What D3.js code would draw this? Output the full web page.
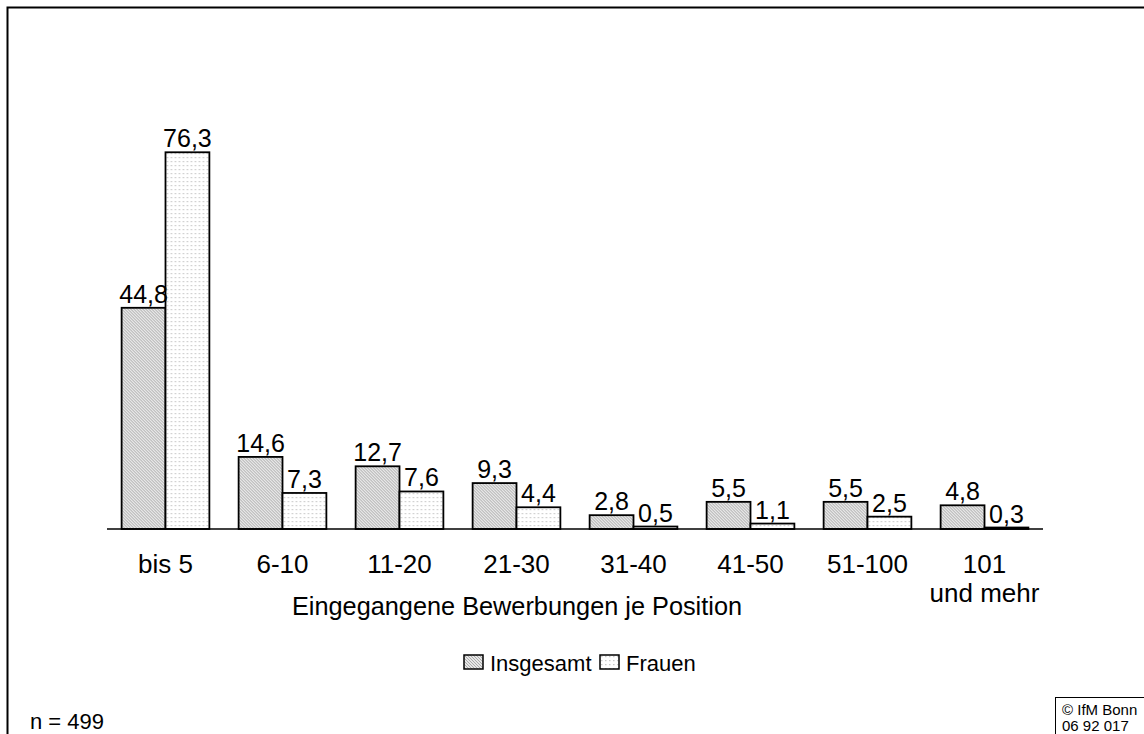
<!DOCTYPE html>
<html>
<head>
<meta charset="utf-8">
<script src="https://cdn.jsdelivr.net/npm/d3@7"></script>
<style>
  body { margin: 0; background: #fff; }
  text { font-family: "Liberation Sans", Arial, sans-serif; fill: #000; }
</style>
</head>
<body>
<script>
var w = 1144;
var h = 734;

var categories = ["bis 5", "6-10", "11-20", "21-30", "31-40", "41-50", "51-100", "101\nund mehr"];
var insgesamt = [44.8, 14.6, 12.7, 9.3, 2.8, 5.5, 5.5, 4.8];
var frauen = [76.3, 7.3, 7.6, 4.4, 0.5, 1.1, 2.5, 0.3];
var seriesNames = ["Insgesamt", "Frauen"];

var baseY = 529;

var xScale = d3.scaleBand()
  .domain(categories)
  .range([107, 1043])
  .paddingInner(0.25)
  .paddingOuter(0.125);

var xSub = d3.scaleBand()
  .domain(seriesNames)
  .range([0, xScale.bandwidth()]);

var yScale = d3.scaleLinear()
  .domain([0, 80])
  .range([baseY, baseY - 395]);

var svg = d3.select("body")
  .append("svg")
  .attr("width", w)
  .attr("height", h);

var defs = svg.append("defs");

// fine diagonal hatching for Insgesamt
var p1 = defs.append("pattern")
  .attr("id", "hatch")
  .attr("patternUnits", "userSpaceOnUse")
  .attr("width", 3)
  .attr("height", 3);
p1.append("rect").attr("width", 3).attr("height", 3).attr("fill", "#e6e6e6");
p1.append("path")
  .attr("d", "M0,0 L3,3 M-1,2 L1,4 M2,-1 L4,1")
  .attr("stroke", "#9a9a9a")
  .attr("stroke-width", 0.8);

// dots for Frauen
var p2 = defs.append("pattern")
  .attr("id", "dots")
  .attr("patternUnits", "userSpaceOnUse")
  .attr("width", 4)
  .attr("height", 4);
p2.append("rect").attr("width", 4).attr("height", 4).attr("fill", "#fff");
p2.append("rect").attr("x", 1).attr("y", 1).attr("width", 1.5).attr("height", 1.2).attr("fill", "#c8c8c8");

var fills = { "Insgesamt": "url(#hatch)", "Frauen": "url(#dots)" };

// outer frame
svg.append("rect")
  .attr("x", 7.5)
  .attr("y", 7.5)
  .attr("width", 1200)
  .attr("height", 1000)
  .attr("fill", "none")
  .attr("stroke", "#000")
  .attr("stroke-width", 2);

var rows = categories.map(function(c, i) {
  return { cat: c, vals: [["Insgesamt", insgesamt[i]], ["Frauen", frauen[i]]] };
});

var groups = svg.selectAll("g.group")
  .data(rows)
  .enter()
  .append("g")
  .attr("class", "group")
  .attr("transform", function(d) { return "translate(" + xScale(d.cat) + ",0)"; });

groups.selectAll("rect")
  .data(function(d) { return d.vals; })
  .enter()
  .append("rect")
  .attr("x", function(d) { return xSub(d[0]); })
  .attr("y", function(d) { return yScale(d[1]); })
  .attr("width", xSub.bandwidth())
  .attr("height", function(d) { return yScale(0) - yScale(d[1]); })
  .attr("fill", function(d) { return fills[d[0]]; })
  .attr("stroke", "#000")
  .attr("stroke-width", 1.8);

groups.selectAll("text.val")
  .data(function(d) { return d.vals; })
  .enter()
  .append("text")
  .attr("class", "val")
  .attr("x", function(d) { return xSub(d[0]) + xSub.bandwidth() / 2; })
  .attr("y", function(d) { return yScale(d[1]) - 5; })
  .attr("text-anchor", "middle")
  .style("font-size", "25px")
  .text(function(d) { return String(d[1]).replace(".", ","); });

// baseline
svg.append("line")
  .attr("x1", 107)
  .attr("x2", 1043)
  .attr("y1", baseY)
  .attr("y2", baseY)
  .attr("stroke", "#000")
  .attr("stroke-width", 1.5);

// category labels
var catLabels = svg.selectAll("text.cat")
  .data(categories)
  .enter()
  .append("text")
  .attr("class", "cat")
  .attr("text-anchor", "middle")
  .attr("transform", function(d) { return "translate(" + (xScale(d) + xScale.bandwidth() / 2) + ",573)"; })
  .style("font-size", "26px");
catLabels.selectAll("tspan")
  .data(function(d) { return d.split("\n"); })
  .enter()
  .append("tspan")
  .attr("x", 0)
  .attr("dy", function(d, i) { return i === 0 ? 0 : 29; })
  .text(function(d) { return d; });

svg.append("text")
  .attr("x", 517)
  .attr("y", 615)
  .attr("text-anchor", "middle")
  .style("font-size", "25.3px")
  .text("Eingegangene Bewerbungen je Position");

// legend
var legend = svg.append("g").attr("transform", "translate(464,655)");
var legX = [0, 136];
seriesNames.forEach(function(s, i) {
  legend.append("rect")
    .attr("x", legX[i])
    .attr("y", 0)
    .attr("width", 19)
    .attr("height", 14)
    .attr("fill", fills[s])
    .attr("stroke", "#000")
    .attr("stroke-width", 1.5);
  legend.append("text")
    .attr("x", legX[i] + 26)
    .attr("y", 16)
    .style("font-size", "22px")
    .text(s);
});

svg.append("text")
  .attr("x", 30)
  .attr("y", 729)
  .style("font-size", "22px")
  .text("n = 499");

// copyright box
svg.append("rect")
  .attr("x", 1055.5)
  .attr("y", 697.5)
  .attr("width", 120)
  .attr("height", 60)
  .attr("fill", "#fff")
  .attr("stroke", "#000")
  .attr("stroke-width", 1);
svg.append("text")
  .attr("x", 1062)
  .attr("y", 715)
  .style("font-size", "15px")
  .text("© IfM Bonn");
svg.append("text")
  .attr("x", 1062)
  .attr("y", 731)
  .style("font-size", "15px")
  .text("06 92 017");
</script>
</body>
</html>
